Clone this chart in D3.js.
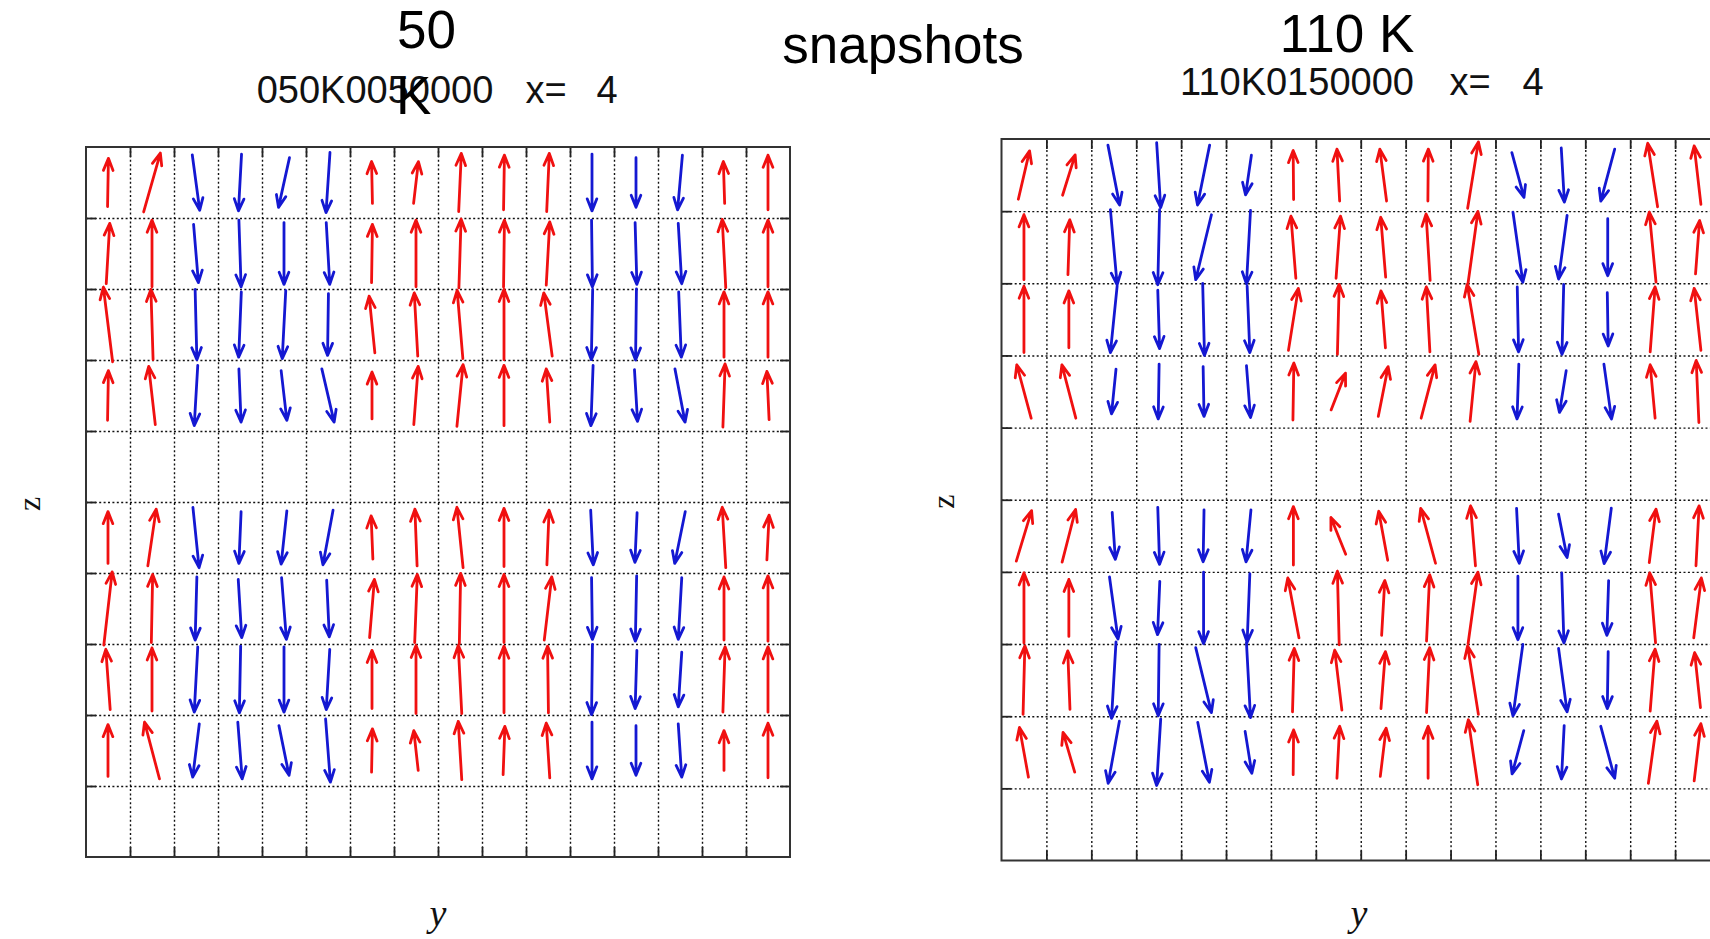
<!DOCTYPE html>
<html>
<head>
<meta charset="utf-8">
<script src="https://cdn.jsdelivr.net/npm/d3@7"></script>
<style>
  html, body { margin: 0; padding: 0; background: #fff; overflow: hidden; }
  svg { display: block; }
</style>
</head>
<body>
<svg id="chart" width="1710" height="939"></svg>
<script>
// ---------------- DATA ----------------
// grid: 16 y-columns, 10 z-levels (z = 0 bottom ... 9 top); arrows live on these z levels (top to bottom)
const yCells = d3.range(16);
const zLevelsWithSpins = [9, 8, 7, 6, 4, 3, 2, 1];

// 50 K snapshot: horizontal (u, in cell widths) and vertical (w, in cell heights, + = up) components
const u50 = [
  [0.02, 0.38, 0.17, -0.07, -0.25, -0.09, -0.02, 0.11, 0.06, 0.02, 0.06, 0, 0, -0.11, -0.03, 0],
  [0.08, 0, 0.11, 0.05, 0, 0.08, 0.02, 0, 0.05, 0.02, 0.08, 0.02, 0.04, 0.08, -0.08, 0],
  [-0.21, -0.05, 0.04, -0.06, -0.08, -0.02, -0.13, -0.08, -0.13, 0, -0.19, -0.03, -0.02, 0.06, 0, 0],
  [0.02, -0.15, -0.08, 0.05, 0.13, 0.28, 0, 0.10, 0.14, 0, -0.08, -0.05, 0.07, 0.23, 0.05, -0.05],
  [0, 0.19, 0.14, -0.05, -0.13, -0.23, -0.04, -0.05, -0.14, 0, 0.05, 0.06, -0.05, -0.24, -0.08, 0.05],
  [0.19, 0.03, -0.04, 0.08, 0.11, 0.06, 0.11, 0.06, 0.03, 0, 0.17, 0.02, -0.03, -0.08, 0, 0],
  [-0.10, 0, -0.08, -0.03, 0, -0.08, 0, 0, -0.08, 0, -0.02, -0.02, -0.04, -0.08, 0.05, 0],
  [0, -0.34, -0.15, 0.10, 0.23, 0.11, 0.02, -0.10, -0.08, 0.04, -0.08, 0, 0, 0.08, 0, 0]
];
const w50 = [
  [0.68, 0.83, -0.78, -0.80, -0.70, -0.85, 0.59, 0.59, 0.82, 0.77, 0.82, -0.80, -0.70, -0.77, 0.59, 0.77],
  [0.85, 0.94, -0.82, -0.94, -0.87, -0.87, 0.82, 0.94, 0.97, 0.94, 0.89, -0.94, -0.87, -0.85, 0.96, 0.94],
  [1.05, 0.99, -0.99, -0.92, -0.96, -0.87, 0.80, 0.89, 0.96, 0.99, 0.89, -0.99, -1.00, -0.92, 0.92, 0.92],
  [0.70, 0.82, -0.85, -0.75, -0.70, -0.75, 0.66, 0.82, 0.87, 0.85, 0.75, -0.85, -0.73, -0.75, 0.89, 0.68],
  [0.73, 0.80, -0.85, -0.73, -0.75, -0.77, 0.61, 0.80, 0.85, 0.82, 0.77, -0.77, -0.70, -0.73, 0.85, 0.63],
  [1.03, 0.96, -0.89, -0.82, -0.87, -0.80, 0.82, 0.96, 0.99, 0.96, 0.89, -0.87, -0.92, -0.87, 0.89, 0.92],
  [0.85, 0.89, -0.92, -0.94, -0.92, -0.85, 0.82, 0.96, 0.96, 0.94, 0.94, -0.99, -0.82, -0.77, 0.92, 0.92],
  [0.73, 0.80, -0.75, -0.80, -0.70, -0.89, 0.61, 0.56, 0.82, 0.68, 0.77, -0.80, -0.70, -0.75, 0.56, 0.77]
];

// 110 K snapshot
const u110 = [
  [0.25, 0.28, 0.26, 0.09, -0.27, -0.13, -0.01, -0.06, -0.15, 0.01, 0.24, 0.27, 0.07, -0.31, -0.22, -0.15],
  [0, 0.04, 0.15, -0.04, -0.35, -0.09, -0.11, 0.10, -0.11, -0.09, 0.22, 0.22, -0.19, 0, -0.15, 0.09],
  [0, 0, -0.15, 0.04, 0.04, 0.06, 0.22, 0.04, -0.10, -0.08, -0.26, 0.03, -0.04, 0.02, 0.11, -0.15],
  [-0.32, -0.31, -0.10, -0.02, 0.02, 0.09, 0.02, 0.32, 0.22, 0.31, 0.13, -0.04, -0.15, 0.17, -0.11, -0.06],
  [0.34, 0.30, 0.07, 0.04, -0.02, -0.11, 0, -0.33, -0.20, -0.33, -0.11, 0.06, 0.19, -0.16, 0.15, 0.07],
  [0, 0, 0.19, -0.05, 0, -0.06, -0.25, -0.04, 0.07, 0.07, 0.22, 0, 0.05, -0.04, -0.13, 0.17],
  [0.04, -0.05, -0.10, -0.02, 0.35, 0.09, 0.04, -0.16, 0.10, 0.07, -0.24, -0.22, 0.19, -0.02, 0.11, -0.13],
  [-0.20, -0.26, -0.25, -0.09, 0.26, 0.15, 0.01, 0.06, 0.13, 0, -0.21, -0.26, -0.06, 0.31, 0.19, 0.15]
];
const w110 = [
  [0.67, 0.56, -0.83, -0.90, -0.83, -0.55, 0.68, 0.72, 0.72, 0.72, 0.92, -0.62, -0.75, -0.72, 0.88, 0.81],
  [0.90, 0.76, -1.04, -1.04, -0.90, -1.02, 0.86, 0.86, 0.83, 0.92, 0.99, -0.97, -0.88, -0.79, 0.97, 0.74],
  [0.92, 0.79, -0.92, -0.81, -1.00, -0.92, 0.86, 0.97, 0.79, 0.90, 0.97, -0.90, -0.97, -0.74, 0.90, 0.86],
  [0.74, 0.74, -0.62, -0.76, -0.69, -0.72, 0.79, 0.51, 0.69, 0.74, 0.83, -0.76, -0.58, -0.76, 0.74, 0.86],
  [0.70, 0.73, -0.65, -0.79, -0.72, -0.72, 0.81, 0.51, 0.68, 0.76, 0.83, -0.76, -0.60, -0.77, 0.74, 0.83],
  [0.97, 0.79, -0.86, -0.74, -0.99, -0.95, 0.83, 1.02, 0.76, 0.92, 0.99, -0.88, -0.97, -0.76, 0.97, 0.83],
  [0.95, 0.81, -1.06, -0.99, -0.90, -1.04, 0.88, 0.83, 0.79, 0.90, 0.95, -0.99, -0.88, -0.79, 0.86, 0.76],
  [0.69, 0.55, -0.86, -0.92, -0.83, -0.58, 0.62, 0.72, 0.67, 0.72, 0.90, -0.60, -0.74, -0.72, 0.86, 0.79]
];

// text
const mainTitle = "snapshots";
const leftTemp = ["50", "K"];
const rightTemp = "110 K";
const leftRun = "050K0050000";
const rightRun = "110K0150000";
const xLabel = "x=";
const xValue = "4";
const yAxisLabel = "y";
const zAxisLabel = "z";

// ---------------- DRAWING ----------------
const svg = d3.select("#chart");
svg.append("rect").attr("width", 1710).attr("height", 939).attr("fill", "#fff");

const RED = "#f01010", BLUE = "#1418d2";
const SANS = "'Liberation Sans', Arial, sans-serif";
const SERIF = "'Liberation Serif', 'Times New Roman', serif";

function drawPanel(p) {
  const g = svg.append("g");
  const x = d3.scaleLinear().domain([0, 16]).range([p.left, p.right]);
  const z = d3.scaleLinear().domain([0, 10]).range([p.bottom, p.top]);
  const H = p.bottom - p.top, W = p.right - p.left;
  const inner = d3.range(1, 16), innerZ = d3.range(1, 10);

  // dotted grid
  const grid = g.append("g");
  grid.append("g").attr("transform", `translate(0,${p.bottom})`)
    .call(d3.axisBottom(x).tickValues(inner).tickSize(-H).tickFormat(""))
    .call(s => s.select(".domain").remove());
  grid.append("g").attr("transform", `translate(${p.left},0)`)
    .call(d3.axisLeft(z).tickValues(innerZ).tickSize(-W).tickFormat(""))
    .call(s => s.select(".domain").remove());
  grid.selectAll(".tick line").attr("stroke", "#111").attr("stroke-width", 1.4)
    .attr("stroke-dasharray", "2,2.4");

  // solid inward ticks on all four sides
  const tk = g.append("g");
  tk.append("g").attr("transform", `translate(0,${p.bottom})`)
    .call(d3.axisBottom(x).tickValues(inner).tickSize(-10).tickFormat(""));
  tk.append("g").attr("transform", `translate(0,${p.top})`)
    .call(d3.axisTop(x).tickValues(inner).tickSize(-10).tickFormat(""));
  tk.append("g").attr("transform", `translate(${p.left},0)`)
    .call(d3.axisLeft(z).tickValues(innerZ).tickSize(-10).tickFormat(""));
  tk.append("g").attr("transform", `translate(${p.right},0)`)
    .call(d3.axisRight(z).tickValues(innerZ).tickSize(-10).tickFormat(""));
  tk.selectAll(".domain").remove();
  tk.selectAll(".tick line").attr("stroke", "#222").attr("stroke-width", 1.8);

  g.append("rect").attr("x", p.left).attr("y", p.top).attr("width", W).attr("height", H)
    .attr("fill", "none").attr("stroke", "#333").attr("stroke-width", 2);

  // arrows
  const arrows = [];
  zLevelsWithSpins.forEach((lev, r) => {
    yCells.forEach(c => {
      const u = p.u[r][c], w = p.w[r][c];
      arrows.push({
        x1: x(c + 0.5 - u / 2), y1: z(lev + 0.5 - w / 2),
        x2: x(c + 0.5 + u / 2), y2: z(lev + 0.5 + w / 2),
        color: w >= 0 ? RED : BLUE
      });
    });
  });
  const hl = 13, ha = 0.38;
  g.append("g").selectAll("path").data(arrows).join("path")
    .attr("d", a => {
      const ang = Math.atan2(a.y2 - a.y1, a.x2 - a.x1);
      const b1x = a.x2 - hl * Math.cos(ang - ha), b1y = a.y2 - hl * Math.sin(ang - ha);
      const b2x = a.x2 - hl * Math.cos(ang + ha), b2y = a.y2 - hl * Math.sin(ang + ha);
      return `M${a.x1},${a.y1}L${a.x2},${a.y2}M${b1x},${b1y}L${a.x2},${a.y2}L${b2x},${b2y}`;
    })
    .attr("fill", "none").attr("stroke", a => a.color).attr("stroke-width", 2.8)
    .attr("stroke-linecap", "round").attr("stroke-linejoin", "round");

  // axis labels
  g.append("text").attr("transform", `translate(${p.zLabelX},${(p.top + p.bottom) / 2 + 2}) rotate(-90)`)
    .attr("text-anchor", "middle").attr("font-family", SERIF).attr("font-size", 32)
    .attr("fill", "#111").text(zAxisLabel);
  g.append("text").attr("x", p.yLabelX).attr("y", 926)
    .attr("text-anchor", "middle").attr("font-family", SERIF).attr("font-style", "italic")
    .attr("font-size", 38).attr("fill", "#111").text(yAxisLabel);

  // run subtitle
  const st = g.append("g").attr("font-family", SANS).attr("font-size", 38).attr("fill", "#111")
    .attr("text-anchor", "middle");
  st.append("text").attr("x", p.runX).attr("y", p.runY).text(p.run);
  st.append("text").attr("x", p.xeqX).attr("y", p.runY).text(xLabel);
  st.append("text").attr("x", p.valX).attr("y", p.runY).text(xValue);
}

drawPanel({
  left: 86, right: 790, top: 147, bottom: 857, u: u50, w: w50,
  zLabelX: 40, yLabelX: 438, run: leftRun, runX: 375, runY: 103, xeqX: 546, valX: 607
});
drawPanel({
  left: 1001.5, right: 1720, top: 139, bottom: 860.5, u: u110, w: w110,
  zLabelX: 954, yLabelX: 1359, run: rightRun, runX: 1297, runY: 95, xeqX: 1470, valX: 1533
});

// big titles
const tt = svg.append("g").attr("font-family", SANS).attr("font-size", 53).attr("fill", "#000");
tt.append("text").attr("x", 397).attr("y", 48).text(leftTemp[0]);
tt.append("text").attr("x", 396).attr("y", 114).text(leftTemp[1]);
tt.append("text").attr("x", 903).attr("y", 63).attr("text-anchor", "middle").text(mainTitle);
tt.append("text").attr("x", 1347).attr("y", 52).attr("text-anchor", "middle").text(rightTemp);
</script>
</body>
</html>
